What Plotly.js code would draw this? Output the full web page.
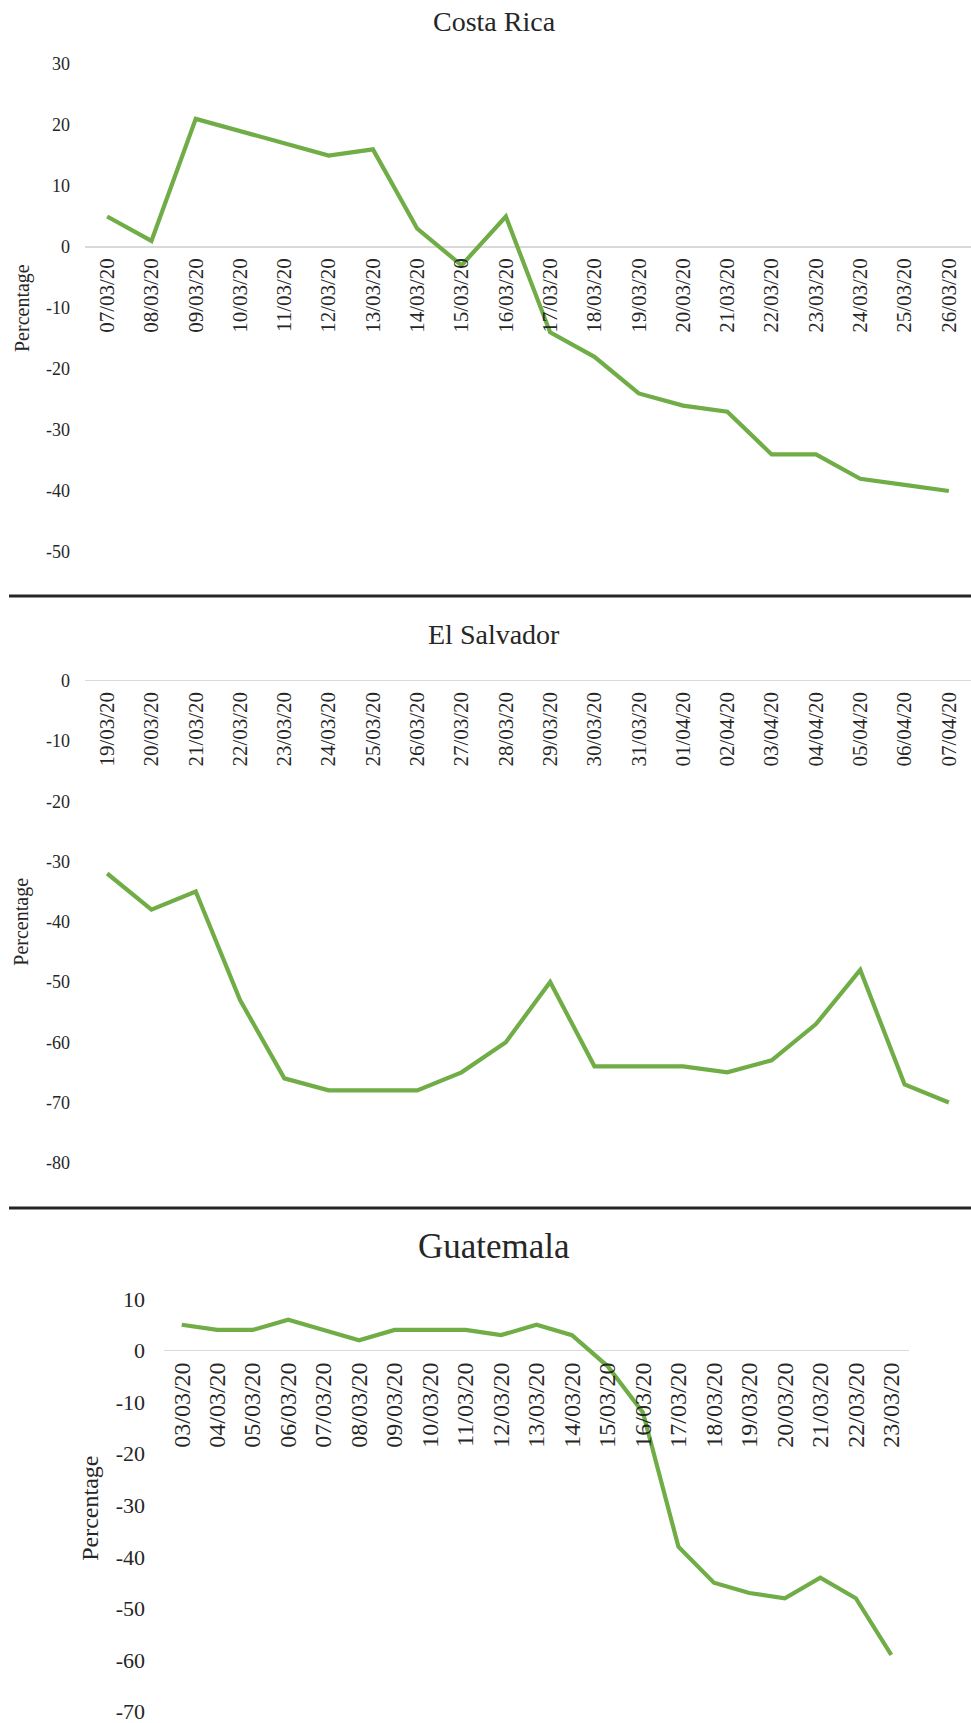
<!DOCTYPE html>
<html><head><meta charset="utf-8">
<script src="https://cdn.plot.ly/plotly-3.0.1.min.js"></script>
<style>body{margin:0;background:#fff}</style>
</head><body><div id="chart" style="width:971px;height:1723px"></div>
<script>
const W = 971, H = 1723;

// ---- data ----
const countryTitles = ["Costa Rica", "El Salvador", "Guatemala"];
const yAxisTitle = "Percentage";

const costaRicaDates = ["07/03/20","08/03/20","09/03/20","10/03/20","11/03/20","12/03/20","13/03/20","14/03/20","15/03/20","16/03/20","17/03/20","18/03/20","19/03/20","20/03/20","21/03/20","22/03/20","23/03/20","24/03/20","25/03/20","26/03/20"];
const costaRicaValues = [5, 1, 21, 19, 17, 15, 16, 3, -3, 5, -14, -18, -24, -26, -27, -34, -34, -38, -39, -40];
const costaRicaYTicks = [30, 20, 10, 0, -10, -20, -30, -40, -50];

const elSalvadorDates = ["19/03/20","20/03/20","21/03/20","22/03/20","23/03/20","24/03/20","25/03/20","26/03/20","27/03/20","28/03/20","29/03/20","30/03/20","31/03/20","01/04/20","02/04/20","03/04/20","04/04/20","05/04/20","06/04/20","07/04/20"];
const elSalvadorValues = [-32, -38, -35, -53, -66, -68, -68, -68, -65, -60, -50, -64, -64, -64, -65, -63, -57, -48, -67, -70];
const elSalvadorYTicks = [0, -10, -20, -30, -40, -50, -60, -70, -80];

const guatemalaDates = ["03/03/20","04/03/20","05/03/20","06/03/20","07/03/20","08/03/20","09/03/20","10/03/20","11/03/20","12/03/20","13/03/20","14/03/20","15/03/20","16/03/20","17/03/20","18/03/20","19/03/20","20/03/20","21/03/20","22/03/20","23/03/20"];
const guatemalaValues = [5, 4, 4, 6, 4, 2, 4, 4, 4, 3, 5, 3, -3, -12, -38, -45, -47, -48, -44, -48, -59];
const guatemalaYTicks = [10, 0, -10, -20, -30, -40, -50, -60, -70];

const yRanges = [[-50, 30], [-80, 0], [-70, 10]];

// ---- layout helpers ----
const fx = px => px / W;
const fy = px => 1 - px / H;
const FONT = "Liberation Serif, Times New Roman, serif";
const GREEN = "#70AD47";
const TXT = "#262626";

const panels = [
  {x: costaRicaDates, y: costaRicaValues, ticks: costaRicaYTicks, xd: [fx(85), 1], yd: [fy(552), fy(64)], tickSize: 21, ySize: 18, titleSize: 20, titleX: 22, head: {y: 22, size: 28}},
  {x: elSalvadorDates, y: elSalvadorValues, ticks: elSalvadorYTicks, xd: [fx(85), 1], yd: [fy(1162.7), fy(680.7)], tickSize: 21, ySize: 18, titleSize: 20, titleX: 22, head: {y: 634, size: 28}},
  {x: guatemalaDates, y: guatemalaValues, ticks: guatemalaYTicks, xd: [fx(164), fx(909)], yd: [fy(1711.7), fy(1299)], tickSize: 24, ySize: 22, titleSize: 24, titleX: 90, head: {y: 1246, size: 35}}
];

const data = [];
const layout = {
  width: W, height: H,
  margin: {l: 0, r: 0, t: 0, b: 0},
  paper_bgcolor: "#fff", plot_bgcolor: "rgba(0,0,0,0)",
  showlegend: false,
  font: {family: FONT, color: TXT},
  annotations: [],
  shapes: []
};

panels.forEach((p, i) => {
  const n = i === 0 ? "" : String(i + 1);
  data.push({
    type: "scatter", mode: "lines",
    x: p.x, y: p.y,
    xaxis: "x" + n, yaxis: "y" + n,
    line: {color: GREEN, width: 4.2},
    hoverinfo: "x+y"
  });
  const yr = yRanges[i];
  const zeroPos = p.yd[0] + (0 - yr[0]) / (yr[1] - yr[0]) * (p.yd[1] - p.yd[0]);
  layout["xaxis" + n] = {
    type: "category",
    domain: p.xd,
    anchor: "free",
    position: zeroPos,
    range: [-0.5, p.x.length - 0.5],
    tickangle: -90,
    ticks: "",
    showline: false,
    showgrid: false,
    zeroline: false,
    ticklabelstandoff: 6,
    tickfont: {family: FONT, size: p.tickSize, color: TXT},
    fixedrange: true
  };
  layout["yaxis" + n] = {
    domain: p.yd,
    anchor: "x" + n,
    range: yr,
    tickmode: "array",
    tickvals: p.ticks,
    ticktext: p.ticks.map(v => String(v)),
    ticks: "",
    showgrid: false,
    showline: false,
    zeroline: true,
    zerolinecolor: "#d9d9d9",
    zerolinewidth: 1.5,
    ticklabelstandoff: i === 2 ? 18 : 14,
    ticklabeloverflow: "allow",
    tickfont: {family: FONT, size: p.ySize, color: TXT},
    fixedrange: true
  };
  layout.annotations.push({
    text: yAxisTitle, textangle: -90,
    xref: "paper", yref: "paper",
    x: fx(p.titleX), y: (p.yd[0] + p.yd[1]) / 2 - (i === 2 ? 0.002 : 0),
    xanchor: "center", yanchor: "middle", showarrow: false,
    font: {family: FONT, size: p.titleSize, color: TXT}
  });
  layout.annotations.push({
    text: countryTitles[i],
    xref: "paper", yref: "paper",
    x: fx(494), y: fy(p.head.y),
    xanchor: "center", yanchor: "middle", showarrow: false,
    font: {family: FONT, size: p.head.size, color: TXT}
  });
});

// separators between the three panels
[596, 1208].forEach(py => {
  layout.shapes.push({
    type: "line", xref: "paper", yref: "paper",
    x0: fx(9), x1: 1, y0: fy(py), y1: fy(py),
    line: {color: "#262626", width: 3}
  });
});

Plotly.newPlot("chart", data, layout, {displayModeBar: false, staticPlot: true});
</script>
</body></html>
